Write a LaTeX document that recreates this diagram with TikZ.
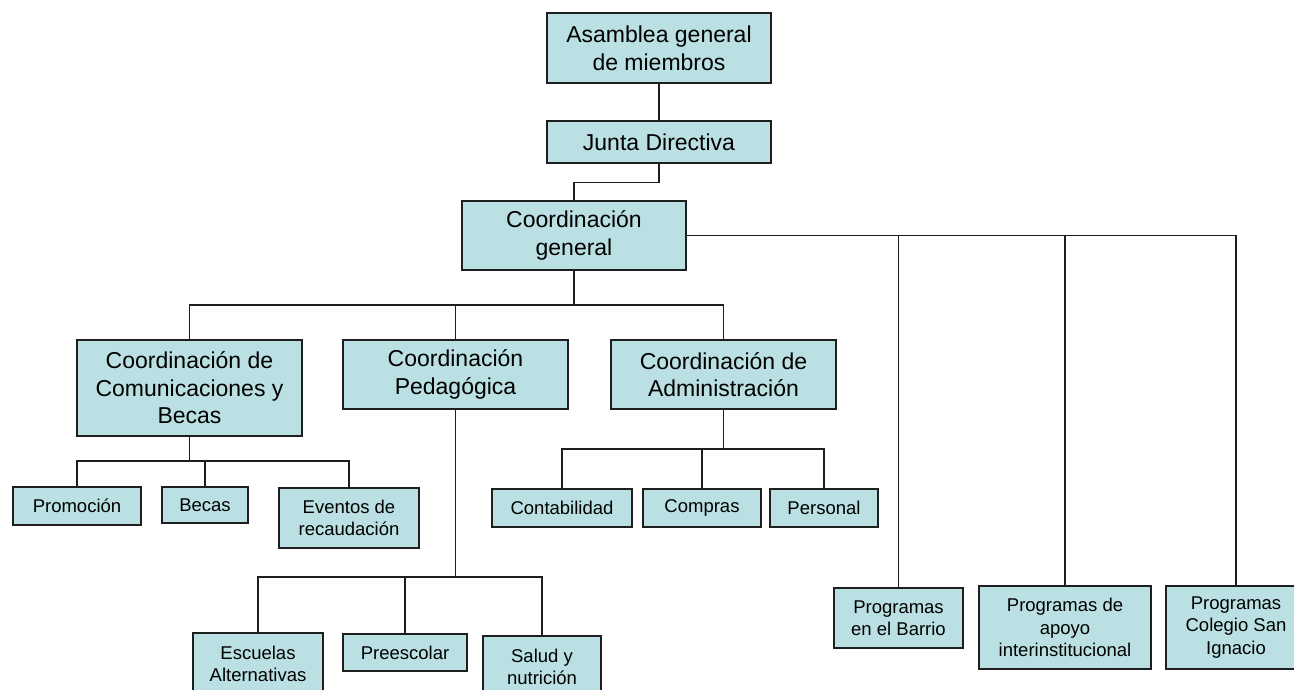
\documentclass[tikz,border=0pt]{standalone}
\usepackage{fontspec}
\setmainfont{Liberation Sans}
\usepackage{tikz}
\usetikzlibrary{calc}
\definecolor{boxcyan}{RGB}{186,224,227}
\definecolor{darkline}{RGB}{30,30,30}

\begin{document}
\begin{tikzpicture}[x=1pt,y=-1pt,line width=1.3pt,darkline]

  \tikzstyle{bigbox}=[draw=darkline,line width=1.5pt,fill=boxcyan,shape=rectangle,inner sep=2pt,align=center,text=black,font=\fontsize{23}{27.6}\selectfont]
  \tikzstyle{smallbox}=[draw=darkline,line width=1.5pt,fill=boxcyan,shape=rectangle,inner sep=2pt,align=center,text=black,font=\fontsize{18.5}{22.4}\selectfont]

  \useasboundingbox (0,0) rectangle (1294,690);

  \node[bigbox,minimum width=224,minimum height=70] (asam)  at (659,48)    {Asamblea general\\de miembros};
  \node[bigbox,minimum width=224,minimum height=42] (junta) at (659,142)   {Junta Directiva};
  \node[bigbox,minimum width=224,minimum height=69] (cgen)  at (574,235.5) {Coordinación\\general};
  \node[bigbox,minimum width=225,minimum height=96] (ccom)  at (189.5,388) {Coordinación de\\Comunicaciones y\\Becas};
  \node[bigbox,minimum width=225,minimum height=69] (cped)  at (455.5,374.5) {Coordinación\\Pedagógica};
  \node[bigbox,minimum width=225,minimum height=69] (cadm)  at (723.5,374.5) {Coordinación de\\Administración};

  \node[smallbox,minimum width=128,minimum height=38] (prom)  at (77,506)    {Promoción};
  \node[smallbox,minimum width=86,minimum height=36]  (becas) at (205,505)   {Becas};
  \node[smallbox,minimum width=140,minimum height=60] (event) at (349,518)   {Eventos de\\recaudación};
  \node[smallbox,minimum width=140,minimum height=38] (conta) at (562,508)   {Contabilidad};
  \node[smallbox,minimum width=118,minimum height=38] (compr) at (702,508)   {Compras};
  \node[smallbox,minimum width=108,minimum height=38] (perso) at (824,508)   {Personal};
  \node[smallbox,minimum width=130,minimum height=62] (escu)  at (258,664)   {Escuelas\\Alternativas};
  \node[smallbox,minimum width=124,minimum height=37] (presc) at (405,652.5) {Preescolar};
  \node[smallbox,minimum width=118,minimum height=62] (salud) at (542,667)   {Salud y\\nutrición};
  \node[smallbox,minimum width=129,minimum height=60] (barrio) at (898.5,618) {Programas\\en el Barrio};
  \node[smallbox,minimum width=172,minimum height=83] (apoyo) at (1065,627.5) {Programas de\\apoyo\\interinstitucional};
  \node[smallbox,minimum width=140,minimum height=83] (coleg) at (1236,627.5) {Programas\\Colegio San\\Ignacio};

  \coordinate (bgen) at (574,305);
  \coordinate (bcom) at (189.5,461);
  \coordinate (badm) at (723.5,449);
  \coordinate (bped) at (455.5,577);

  \draw (asam) -- (junta);
  \draw (junta.south) -- ++(0,19) -| (cgen.north);

  % programas
  \draw (cgen.east) -| (coleg.north);
  \draw (barrio.north) -- (barrio.north |- cgen.east);
  \draw (apoyo.north) -- (apoyo.north |- cgen.east);

  % coordinaciones
  \draw (cgen.south) -- (bgen);
  \draw (ccom.north) |- (bgen) -| (cadm.north);
  \draw (cped.north) -- (cped.north |- bgen);

  \draw (ccom.south) -- (bcom);
  \draw (prom.north) |- (bcom) -| (event.north);
  \draw (becas.north) -- (becas.north |- bcom);

  \draw (cadm.south) -- (badm);
  \draw (conta.north) |- (badm) -| (perso.north);
  \draw (compr.north) -- (compr.north |- badm);

  \draw (cped.south) -- (bped);
  \draw (escu.north) |- (bped) -| (salud.north);
  \draw (presc.north) -- (presc.north |- bped);

\end{tikzpicture}
\end{document}
